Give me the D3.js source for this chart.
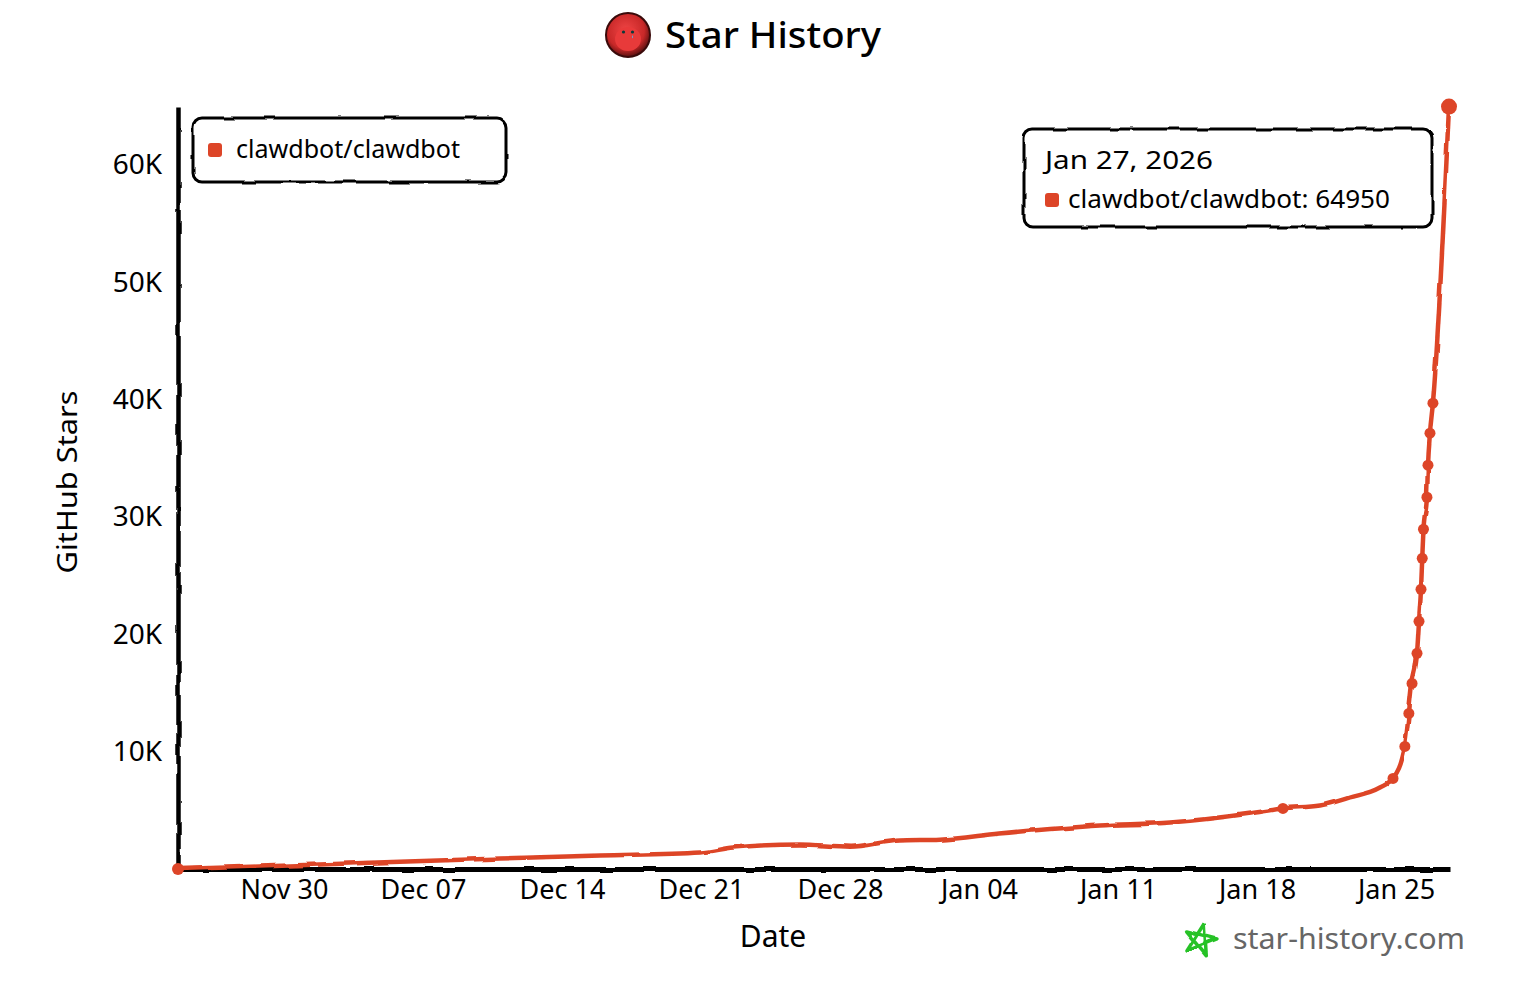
<!DOCTYPE html>
<html><head><meta charset="utf-8">
<script src="https://cdn.jsdelivr.net/npm/d3@7"></script>
<style>body{margin:0;background:#fff}svg{display:block}</style>
</head><body><svg id="c" width="1524" height="990"></svg>
<script>
const repoName = "clawdbot/clawdbot";
const dates = [
  "2025-11-24T16:00","2025-12-01T19:00","2025-12-10T21:00","2025-12-15T22:00","2025-12-20T23:00",
  "2025-12-22T15:00","2025-12-25T23:40","2025-12-28T12:10","2025-12-31T00:20","2026-01-02T00:50",
  "2026-01-05T01:20","2026-01-10T02:00","2026-01-13T14:50","2026-01-17T15:30","2026-01-19T07:20",
  "2026-01-21T04:00","2026-01-22T16:15","2026-01-24T04:30","2026-01-24T20:20","2026-01-25T10:40",
  "2026-01-25T15:30","2026-01-25T19:20","2026-01-26T01:20","2026-01-26T03:45","2026-01-26T06:10",
  "2026-01-26T07:40","2026-01-26T09:10","2026-01-26T13:20","2026-01-26T14:35","2026-01-26T17:00",
  "2026-01-26T20:35","2026-01-27T16:00"
];
const stars = [
  0, 384, 895, 1151, 1407,
  1833, 2089, 1900, 2430, 2500,
  3026, 3708, 3964, 4731, 5158,
  5413, 6095, 6948, 7715, 10443,
  13256, 15813, 18371, 21099, 23827,
  26470, 28943, 31670, 34398, 37126,
  39684, 64950
];
const marked = [
  1,0,0,0,0,
  0,0,0,0,0,
  0,0,0,0,1,
  0,0,0,1,1,
  1,1,1,1,1,
  1,1,1,1,1,
  1,1
];
const xTickDates = ["2025-11-30","2025-12-07","2025-12-14","2025-12-21","2025-12-28","2026-01-04","2026-01-11","2026-01-18","2026-01-25"];
const yTickValues = [10000,20000,30000,40000,50000,60000];
const yMax = 65000;
const tooltipDate = "Jan 27, 2026";
const tooltipValue = 64950;
const chartTitle = "Star History";
const xLabel = "Date";
const yLabel = "GitHub Stars";
const watermark = "star-history.com";

const RED = "#dd4528";
const FONT = "'Noto Sans', sans-serif";
const parseT = d3.timeParse("%Y-%m-%dT%H:%M");
const parseD = d3.timeParse("%Y-%m-%d");
const data = dates.map((d,i)=>({t:parseT(d), v:stars[i], m:marked[i]}));

const svg = d3.select("#c");
const defs = svg.append("defs");
const f = defs.append("filter").attr("id","xkcd").attr("filterUnits","userSpaceOnUse")
  .attr("x",-300).attr("y",-300).attr("width",2200).attr("height",1600);
f.append("feTurbulence").attr("type","fractalNoise").attr("baseFrequency",0.05).attr("result","noise");
f.append("feDisplacementMap").attr("scale",4).attr("xChannelSelector","R").attr("yChannelSelector","G")
  .attr("in","SourceGraphic").attr("in2","noise");
const rg = defs.append("radialGradient").attr("id","av").attr("cx","45%").attr("cy","40%").attr("r","60%");
rg.append("stop").attr("offset","0%").attr("stop-color","#f04545");
rg.append("stop").attr("offset","70%").attr("stop-color","#c82828");
rg.append("stop").attr("offset","100%").attr("stop-color","#5a1010");

const x = d3.scaleTime().domain([data[0].t, data[data.length-1].t]).range([178, 1449]);
const y = d3.scaleLinear().domain([0, yMax]).range([869, 106]);

// Title with avatar
const tg = svg.append("g");
tg.append("circle").attr("cx",628).attr("cy",35).attr("r",22).attr("fill","url(#av)").attr("stroke","#3a0a0a").attr("stroke-width",2);
tg.append("ellipse").attr("cx",628).attr("cy",39).attr("rx",13).attr("ry",12).attr("fill","#e83a3a");
tg.append("circle").attr("cx",623.5).attr("cy",32).attr("r",1.6).attr("fill","#0a3a3a");
tg.append("circle").attr("cx",632.5).attr("cy",32).attr("r",1.6).attr("fill","#0a3a3a");
tg.append("path").attr("d","M632.5 35 q-1.2 2.5 0 3.5 q1.2 -1 0 -3.5z").attr("fill","#5ab4e8");
svg.append("text").attr("x",665).attr("y",48).attr("font-family",FONT).attr("font-size",36).attr("font-weight",500)
  .attr("textLength",216).attr("lengthAdjust","spacingAndGlyphs").attr("fill","#000").text(chartTitle);

// Axes
const gx = svg.append("g").attr("transform","translate(0,869)")
  .call(d3.axisBottom(x).tickValues(xTickDates.map(parseD)).tickFormat(d3.timeFormat("%b %d")).tickSize(0).tickSizeOuter(0).tickPadding(11));
gx.select(".domain").attr("stroke","#000").attr("stroke-width",5).attr("filter","url(#xkcd)");
gx.selectAll("text").attr("font-family",FONT).attr("font-size",27).attr("fill","#000");

const gy = svg.append("g").attr("transform","translate(178,0)")
  .call(d3.axisLeft(y).tickValues(yTickValues).tickFormat(d=>(d/1000)+"K").tickSize(0).tickSizeOuter(0).tickPadding(16));
gy.select(".domain").attr("stroke","#000").attr("stroke-width",4.5).attr("filter","url(#xkcd)");
gy.selectAll("text").attr("font-family",FONT).attr("font-size",28).attr("fill","#000");

svg.append("text").attr("x",773).attr("y",947).attr("text-anchor","middle").attr("font-family",FONT)
  .attr("font-size",30).attr("fill","#000").text(xLabel);
svg.append("text").attr("transform","translate(77,482) rotate(-90)").attr("text-anchor","middle")
  .attr("font-family",FONT).attr("font-size",28).attr("textLength",183).attr("lengthAdjust","spacingAndGlyphs")
  .attr("fill","#000").text(yLabel);

// Line
const line = d3.line().x(d=>x(d.t)).y(d=>y(d.v)).curve(d3.curveMonotoneX);
svg.append("path").datum(data).attr("d",line).attr("fill","none").attr("stroke",RED)
  .attr("stroke-width",4.5).attr("stroke-linecap","round").attr("filter","url(#xkcd)");
svg.append("g").selectAll("circle").data(data.filter(d=>d.m)).join("circle")
  .attr("cx",d=>x(d.t)).attr("cy",d=>y(d.v))
  .attr("r",(d,i,a)=> i===a.length-1 ? 8 : (i===0 ? 6 : 5.5))
  .attr("fill",RED);

// Legend
const lg = svg.append("g");
lg.append("rect").attr("x",193).attr("y",118).attr("width",313).attr("height",64).attr("rx",9)
  .attr("fill","#fff").attr("stroke","#000").attr("stroke-width",3).attr("filter","url(#xkcd)");
lg.append("rect").attr("x",208).attr("y",143).attr("width",14).attr("height",14).attr("rx",3).attr("fill",RED);
lg.append("text").attr("x",236).attr("y",158).attr("font-family",FONT).attr("font-size",25)
  .attr("textLength",224).attr("lengthAdjust","spacingAndGlyphs").attr("fill","#000").text(repoName);

// Tooltip
const tt = svg.append("g");
tt.append("rect").attr("x",1024).attr("y",129).attr("width",408).attr("height",98).attr("rx",9)
  .attr("fill","#fff").attr("stroke","#000").attr("stroke-width",3).attr("filter","url(#xkcd)");
tt.append("text").attr("x",1045).attr("y",169).attr("font-family",FONT).attr("font-size",26)
  .attr("textLength",168).attr("lengthAdjust","spacingAndGlyphs").attr("fill","#000").text(tooltipDate);
tt.append("rect").attr("x",1045).attr("y",193).attr("width",14).attr("height",14).attr("rx",3).attr("fill",RED);
tt.append("text").attr("x",1068).attr("y",208).attr("font-family",FONT).attr("font-size",26)
  .attr("textLength",322).attr("lengthAdjust","spacingAndGlyphs").attr("fill","#000")
  .text(repoName + ": " + tooltipValue);

// Watermark
const cx0=1200, cy0=940, R=17;
const pts = d3.range(5).map(k=>{const a=-Math.PI/2 + 0.25 + k*2*Math.PI/5; return [cx0+R*Math.cos(a), cy0+R*Math.sin(a)];});
const order=[0,2,4,1,3,0];
svg.append("path").attr("d","M"+order.map(k=>pts[k].join(",")).join("L")).attr("fill","none")
  .attr("stroke","#27c227").attr("stroke-width",3.5).attr("stroke-linejoin","round").attr("filter","url(#xkcd)");
svg.append("text").attr("x",1233).attr("y",949).attr("font-family",FONT).attr("font-size",29)
  .attr("textLength",232).attr("lengthAdjust","spacingAndGlyphs").attr("fill","#666").text(watermark);
</script></body></html>
